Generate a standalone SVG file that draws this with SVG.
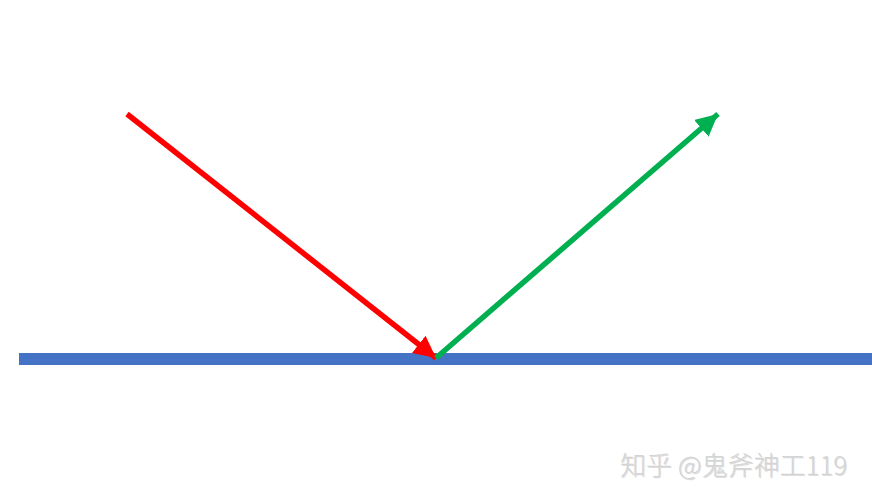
<svg xmlns="http://www.w3.org/2000/svg" width="872" height="501" viewBox="0 0 872 501">
<style>
.ray{stroke-width:5.5;fill:none;stroke-linecap:butt}
.wm{font-family:"Noto Sans CJK SC","Liberation Sans",sans-serif;font-size:26px;font-weight:300}
</style>
<defs>
<marker id="ahR" markerWidth="4" markerHeight="4" refX="4" refY="2" orient="auto" markerUnits="strokeWidth"><path d="M0,0 L4,2 L0,4 Z" fill="#FF0000"/></marker>
<marker id="ahG" markerWidth="4" markerHeight="4" refX="4" refY="2" orient="auto" markerUnits="strokeWidth"><path d="M0,0 L4,2 L0,4 Z" fill="#00B050"/></marker>
</defs>
<rect width="872" height="501" fill="#FFFFFF"/>
<g id="surface"><rect x="19" y="353" width="853" height="12" fill="#4472C4"/></g>
<g id="connectors">
<line id="incident" class="ray" x1="127" y1="114" x2="436" y2="358" stroke="#FF0000" marker-end="url(#ahR)"/>
<line id="reflected" class="ray" x1="436" y1="358" x2="718" y2="114" stroke="#00B050" marker-end="url(#ahG)"/>
</g>
<g id="watermark">
<text class="wm" x="621" y="476" fill="#a0a0a0" opacity="0.35">知乎 @鬼斧神工119</text>
<text class="wm" x="620" y="475" fill="#d4d4d4">知乎 @鬼斧神工119</text>
</g>
</svg>
